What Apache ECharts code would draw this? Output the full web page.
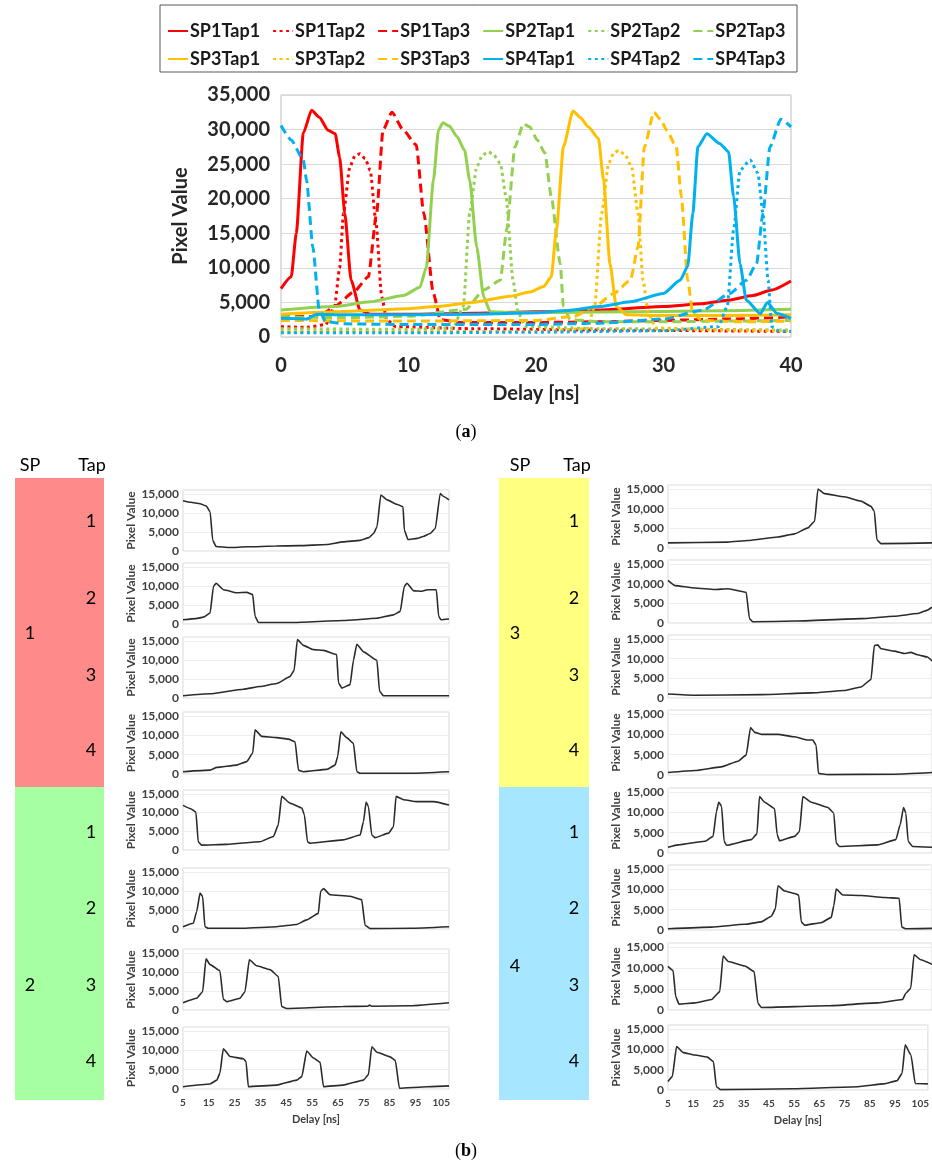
<!DOCTYPE html>
<html><head><meta charset="utf-8">
<script src="https://cdn.jsdelivr.net/npm/echarts@6/dist/echarts.min.js"></script>
<style>html,body{margin:0;padding:0;background:#fff}#c{width:932px;height:1164px}</style>
</head><body><div id="c"></div><script>
// ---------- (a) top chart data: [delay ns, pixel value] ----------
const sp1tap1 = [[0,7000],[0.8,8700],[1.2,15000],[1.75,29500],[2.4,32800],[3.0,31800],[3.7,29900],[4.25,29400],[4.6,26000],[5.0,17900],[5.5,8200],[6.2,3900],[7,3300],[10,3300],[15,3450],[20,3650],[25,3900],[30,4400],[33,4800],[35,5300],[37,6000],[38.5,6800],[40,8100]];
const sp1tap2 = [[0,1500],[2,1400],[3.5,1800],[4.2,4400],[4.6,10000],[4.9,17900],[5.4,24600],[5.8,26200],[6.2,26500],[6.6,25800],[7.0,24100],[7.45,16500],[7.9,5800],[8.3,2500],[9,1500],[15,1200],[25,1000],[40,800]];
const sp1tap3 = [[0,2900],[3,3000],[4.2,4400],[5.7,6500],[6.85,8700],[7.5,17900],[8.0,29900],[8.7,32500],[9.6,29900],[10.6,27800],[11.2,17900],[11.95,6300],[12.5,2500],[14,2100],[20,2100],[25,2200],[30,2400],[35,2600],[40,2900]];
const sp2tap1 = [[0,3900],[4.2,4400],[7,5100],[9.6,6000],[10.9,7200],[11.4,10100],[11.95,22600],[12.35,29900],[12.7,31000],[13.2,30500],[13.8,29000],[14.4,27000],[14.8,22700],[15.35,13000],[15.9,5800],[16.4,3700],[18,3500],[25,3600],[30,3700],[35,3800],[40,4000]];
const sp2tap2 = [[0,1200],[10,1100],[13.5,1300],[14.3,4400],[14.8,17900],[15.35,24600],[15.8,26300],[16.26,26800],[16.7,26300],[17.2,25100],[17.65,20300],[18.2,8200],[18.6,3500],[19.2,1500],[25,1200],[40,1000]];
const sp2tap3 = [[0,2900],[5,2800],[10,3000],[14.5,4000],[15.9,6800],[17.2,8200],[17.7,15500],[18.35,27500],[19.0,30800],[19.5,30400],[20.1,28500],[20.7,26600],[21.2,20300],[21.9,10600],[22.15,4400],[22.7,2500],[25,2200],[30,2200],[35,2300],[40,2400]];
const sp3tap1 = [[0,3300],[5,3700],[10,4100],[12.2,4400],[15,5000],[18,5900],[19.5,6500],[20.6,7300],[21.2,8700],[21.6,15500],[22.15,27500],[22.9,32700],[23.5,31700],[24.1,30400],[24.9,28700],[25.3,22700],[25.8,10600],[26.3,4400],[27.1,3200],[30,3100],[35,3100],[40,3200]];
const sp3tap2 = [[0,800],[10,800],[20,800],[24,1200],[24.6,4400],[25.15,17900],[25.7,25100],[26.1,26600],[26.5,27000],[27.0,26300],[27.5,24600],[28.0,17900],[28.4,8200],[28.8,3500],[29.4,1300],[35,1000],[40,900]];
const sp3tap3 = [[0,2400],[10,2300],[20,2400],[23,3000],[24.6,4400],[26.1,6300],[27.4,8200],[28.0,13000],[28.5,27500],[29.25,32500],[29.8,31400],[30.25,29900],[31.0,27500],[31.4,20300],[31.9,8200],[32.3,3400],[33,2400],[36,2200],[40,2300]];
const sp4tap1 = [[0,2700],[2,2600],[2.8,3300],[5,3200],[10,3200],[15,3300],[20,3500],[22.2,3800],[25,4400],[27.4,5100],[30,6300],[31.3,8200],[31.9,10200],[32.3,17900],[32.7,27500],[33.4,29400],[34.4,28000],[35.1,26800],[35.5,20300],[36.0,10600],[36.5,5300],[37.6,3400],[38.15,5000],[38.9,3400],[40,2700]];
const sp4tap2 = [[0,600],[10,600],[20,700],[30,900],[34.3,1500],[35.0,4400],[35.5,15500],[36.0,24100],[36.8,25600],[37.4,23700],[37.8,17900],[38.2,8200],[38.5,1500],[39,900],[40,800]];
const sp4tap3 = [[0,30600],[0.8,28500],[1.75,25600],[2.0,22700],[2.5,13000],[3.0,3900],[3.5,2200],[5,1900],[10,1800],[15,1800],[20,1800],[25,2000],[30,2600],[33.1,3900],[35.2,6300],[36.5,8200],[37.3,10600],[37.8,17900],[38.35,27500],[39.2,31500],[40,30400]];
const topNames = ['SP1Tap1','SP1Tap2','SP1Tap3','SP2Tap1','SP2Tap2','SP2Tap3','SP3Tap1','SP3Tap2','SP3Tap3','SP4Tap1','SP4Tap2','SP4Tap3'];
const topXTicks = [0,10,20,30,40];
const topYTicks = [0,5000,10000,15000,20000,25000,30000,35000];

// ---------- (b) panel data: [delay ns, pixel value] ----------
const b_sp1_t1 = [[5,13200],[8,12800],[11.6,12400],[14,11800],[15.5,10300],[16.5,2800],[17.8,1200],[23,900],[30,1100],[41,1300],[50,1400],[60.7,1700],[67,2400],[73.6,2800],[77,3500],[78.8,4600],[80.1,6300],[81.6,14700],[84,13400],[88,12200],[90.2,11600],[90.7,5500],[92.1,3000],[95.6,3300],[98,3800],[100.7,4600],[102.7,5900],[104.6,15100],[105.9,14300],[108,13400]];
const b_sp1_t2 = [[5,1100],[10,1400],[12.9,1800],[15.5,2900],[16.8,9900],[17.8,10700],[20.7,9000],[25.8,8200],[29.7,8300],[32,7700],[32.9,2000],[34.2,400],[47.8,400],[67,900],[80,1500],[86.5,2400],[89.1,3300],[90.7,9900],[91.7,10700],[94.3,8700],[97.5,8600],[99.5,9000],[103.1,9000],[104,2000],[104.9,1100],[108,1300]];
const b_sp1_t3 = [[5,600],[15.5,1100],[28.4,2300],[34.8,3000],[41.3,3800],[46.4,5600],[48,7200],[49.3,15300],[51.6,13800],[55.5,12700],[59.4,12500],[64.5,11400],[65.2,4000],[66.5,2600],[69.7,3500],[71,9900],[72.3,14100],[74.9,12100],[80.1,9900],[81.1,1800],[82.6,600],[108,600]];
const b_sp1_t4 = [[5,600],[15.5,1000],[18.1,1700],[25.8,2300],[29.7,3200],[32,5400],[32.9,11400],[35.5,9700],[41.3,9400],[45.8,9000],[48.4,8300],[49.7,1000],[51.6,600],[60.7,1200],[63.9,2300],[64.9,4500],[66.1,10900],[68.4,9400],[71,7900],[72.3,600],[73.6,200],[93,200],[108,600]];
const b_sp2_t1 = [[5,11900],[8,11000],[10,10100],[10.9,2200],[12.2,1300],[21.9,1500],[34.8,2200],[40,3600],[41.9,6700],[43.2,14300],[46.4,12500],[51,11200],[52,9400],[53.2,2200],[54.2,1800],[67,2700],[73.6,4000],[74.9,7600],[75.9,12800],[76.8,11600],[78.1,4000],[79.4,3300],[84.6,4500],[86.5,6200],[87.5,14300],[90.4,13400],[95.6,12900],[102,12900],[108,12000]];
const b_sp2_t2 = [[5,600],[9,1500],[10.3,4600],[11.6,9400],[12.6,8600],[13.5,600],[14.8,200],[28.4,200],[41.3,600],[49,1200],[52.9,2400],[57.4,4100],[58.3,9900],[59.4,10600],[61.9,9000],[69.7,8600],[74.2,7700],[75.5,1000],[77.5,100],[93,200],[108,600]];
const b_sp2_t3 = [[5,1900],[10.3,3100],[12.6,4800],[13.9,13400],[15.5,11900],[19.3,10300],[20.6,2800],[21.9,2200],[27.1,3100],[29,4800],[30.7,13200],[33.5,11600],[38.7,10600],[41.9,8800],[43.2,900],[45.1,400],[67,900],[76.5,1000],[77.3,1300],[78,1000],[93,1100],[108,1900]];
const b_sp2_t4 = [[5,600],[15.5,1300],[18.1,2300],[19.3,4100],[20.6,10400],[23.2,8400],[28.4,7800],[29.4,7100],[30.3,600],[41.3,1000],[49,2300],[51,3200],[52.9,9800],[55.5,8000],[58.1,6900],[59.4,600],[67,1000],[74.9,2300],[76.8,3700],[78.1,10900],[80.1,9500],[85.2,8300],[87.2,7400],[88.8,200],[99.5,600],[108,800]];
const b_sp3_t1 = [[5,1300],[28.4,1500],[36.2,1900],[47.9,2800],[54.4,3600],[59.6,5100],[62.2,6800],[63.5,15000],[66.1,13800],[73.8,13000],[80.3,11900],[84.2,10600],[85.5,9300],[86.5,2100],[88.1,1100],[108,1300]];
const b_sp3_t2 = [[5,10800],[7.7,9500],[15.5,8900],[23.2,8500],[28.4,8700],[35.5,7800],[36.8,1100],[38.1,300],[54.4,500],[80.3,1100],[93.2,1700],[102.3,2400],[106,3200],[108,4000]];
const b_sp3_t3 = [[5,1000],[15.5,700],[41.4,850],[60.9,1300],[73.8,1900],[80.3,2800],[84.2,4700],[85.5,13300],[86.8,13500],[88.1,12500],[93.3,11900],[97.1,11300],[99.7,11600],[102.3,11000],[106.2,10400],[108,9400]];
const b_sp3_t4 = [[5,600],[15.5,1100],[25.8,2000],[32.3,3400],[35.5,4900],[37.2,11700],[38.8,10500],[41.4,10000],[47.9,10000],[54.4,9400],[59.6,8600],[61.5,8600],[62.8,7300],[63.7,400],[67.4,100],[93.3,200],[108,600]];
const b_sp4_t1 = [[5,1400],[9,2000],[19.4,2900],[22.6,4100],[23.9,10200],[24.8,12500],[25.9,11500],[26.9,2900],[27.8,1900],[37.5,3300],[39.7,4700],[40.7,13900],[42.7,12500],[46.6,10900],[47.6,4500],[48.5,3000],[54.4,4100],[56.3,5300],[57.6,13900],[60.9,12500],[67.4,11200],[69.7,9800],[70.6,2500],[71.9,1600],[86.8,2000],[93.9,3300],[95.6,7000],[96.9,11200],[97.8,9800],[98.7,2900],[100.4,1600],[108,1400]];
const b_sp4_t2 = [[5,300],[22,700],[35,1400],[41.4,2000],[45.3,3400],[46.9,5200],[47.9,10900],[50.5,9600],[54.4,9000],[56,8600],[57,2000],[58.3,1200],[64.8,1800],[68.7,3100],[69.7,6000],[70.6,10100],[73.2,8600],[80.3,8500],[89.4,8000],[95.2,7800],[96.2,700],[97.8,300],[108,400]];
const b_sp4_t3 = [[5,10400],[7,9400],[8,3200],[9.3,1400],[15.5,1700],[22,2500],[25.2,4400],[26.5,12900],[28.5,11600],[35,10500],[38.6,9200],[40.1,1600],[41.4,600],[67.4,1000],[86.8,1700],[96.5,2500],[97.8,4000],[99.7,5200],[101,13200],[103.6,12000],[108,10900]];
const b_sp4_t4 = [[5,2100],[6.7,3300],[8.4,10700],[11,9200],[15.5,8600],[20.6,8100],[23,7000],[24.2,800],[25.8,100],[54.4,300],[80.3,800],[90.6,1500],[95.8,2300],[97.8,4100],[99,11100],[101.3,8600],[103,1600],[108,1500]];
const panelXTicks = [5,15,25,35,45,55,65,75,85,95,105];
const panelYTicks = [0,5000,10000,15000];
const spLabels = ['1','2','3','4'];
const tapLabels = ['1','2','3','4'];

// ---------- build ----------
const FONT = 'Lato';
const fmt = v => Number(v).toLocaleString('en-US');
const topData = [sp1tap1,sp1tap2,sp1tap3,sp2tap1,sp2tap2,sp2tap3,sp3tap1,sp3tap2,sp3tap3,sp4tap1,sp4tap2,sp4tap3];
const spColors = ['#FF0000','#92D050','#FFC000','#00B0F0'];
const tapDash = ['solid',[3,3.5],[9,5]];
const leftPanels = [b_sp1_t1,b_sp1_t2,b_sp1_t3,b_sp1_t4,b_sp2_t1,b_sp2_t2,b_sp2_t3,b_sp2_t4];
const rightPanels = [b_sp3_t1,b_sp3_t2,b_sp3_t3,b_sp3_t4,b_sp4_t1,b_sp4_t2,b_sp4_t3,b_sp4_t4];

const topText = {fontFamily:FONT, fontSize:20, fontWeight:'bold', color:'#262626'};
const grids = [{left:281, top:95, width:510, height:242, show:true, borderColor:'#BFBFBF', borderWidth:1}];
const xAxes = [{gridIndex:0, type:'value', min:0, max:40, interval:10,
  axisLine:{show:false}, axisTick:{show:false}, splitLine:{show:false},
  axisLabel:Object.assign({customValues:topXTicks, margin:19}, topText),
  name:'Delay [ns]', nameLocation:'middle', nameGap:47, nameTextStyle:topText}];
const yAxes = [{gridIndex:0, type:'value', min:0, max:35000, interval:5000,
  axisLine:{show:false}, axisTick:{show:false}, splitLine:{lineStyle:{color:'#D9D9D9'}},
  axisLabel:Object.assign({customValues:topYTicks, formatter:fmt, margin:11}, topText),
  name:'Pixel Value', nameLocation:'middle', nameGap:90, nameTextStyle:topText}];
const series = [];
topData.forEach((d,i)=>{
  const c = spColors[Math.floor(i/3)];
  series.push({name:topNames[i], type:'line', xAxisIndex:0, yAxisIndex:0, data:d, symbol:'none', showSymbol:false,
    smooth:0.2, smoothMonotone:'x', lineStyle:{color:c, width:3, type:tapDash[i%3]}, itemStyle:{color:c}, silent:true});
});

const leftTops = [490,563,637,712,790,868,949,1027];
const leftH = [61,61,61,62,60,61,61,62];
const rightTops = [485,560,635,710,788,865,943,1025];
const rightH = [63,63,63,65,65,65,67,65];
const smallText = {fontFamily:FONT, fontWeight:'bold', color:'#404040'};
function addPanel(left, width, top, height, data, isBottom){
  const gi = grids.length;
  grids.push({left, top, width, height, show:true, borderColor:'#D9D9D9', borderWidth:1});
  xAxes.push({gridIndex:gi, type:'value', min:5, max:108,
    axisLine:{show:false}, axisTick:{show:false}, splitLine:{show:false},
    axisLabel:Object.assign({show:isBottom, customValues:panelXTicks, fontSize:10, margin:9}, smallText),
    name:isBottom?'Delay [ns]':'', nameLocation:'middle', nameGap:25, nameTextStyle:Object.assign({fontSize:11}, smallText)});
  yAxes.push({gridIndex:gi, type:'value', min:0, max:16000, interval:5000,
    axisLine:{show:false}, axisTick:{show:false}, splitLine:{lineStyle:{color:'#EEEEEE'}},
    axisLabel:Object.assign({customValues:panelYTicks, formatter:fmt, fontSize:12, margin:4}, smallText),
    name:'Pixel Value', nameLocation:'middle', nameGap:46, nameTextStyle:Object.assign({fontSize:12}, smallText)});
  series.push({type:'line', xAxisIndex:gi, yAxisIndex:gi, data, symbol:'none', showSymbol:false, smooth:0.15, smoothMonotone:'x',
    lineStyle:{color:'#2b2b2b', width:1.6}, silent:true});
}
leftPanels.forEach((d,i)=>addPanel(183,266,leftTops[i],leftH[i],d,i===7));
rightPanels.forEach((d,i)=>addPanel(668,264,rightTops[i],rightH[i],d,i===7));

// decorative blocks & labels
const g = [];
const txt = (t,x,y,size)=>g.push({type:'text', x, y, style:{text:t, fill:'#000', font:`${size}px ${FONT}`, align:'center', verticalAlign:'middle'}});
g.push({type:'rect', shape:{x:160,y:5,width:637,height:67}, style:{fill:'none', stroke:'#595959', lineWidth:1}});
g.push({type:'rect', shape:{x:15,y:478,width:89,height:309}, style:{fill:'#FF8A8A'}});
g.push({type:'rect', shape:{x:15,y:787,width:89,height:313}, style:{fill:'#A6FFA0'}});
g.push({type:'rect', shape:{x:499,y:478,width:90,height:309}, style:{fill:'#FFFF80'}});
g.push({type:'rect', shape:{x:499,y:787,width:90,height:313}, style:{fill:'#A6E6FF'}});
txt('SP',30,465,18); txt('Tap',92,465,18); txt('SP',520,465,18); txt('Tap',577,465,18);
txt(spLabels[0],30,633,18); txt(spLabels[1],30,985,18); txt(spLabels[2],515,633,18); txt(spLabels[3],515,966,18);
const tapYs = [521,598,675,750,832,908,985,1061];
tapYs.forEach((y,i)=>{ txt(tapLabels[i%4],91,y,18); txt(tapLabels[i%4],574,y,18); });
g.push({type:'text', x:466, y:432, style:{text:'({b|a})', fill:'#000', font:'18px "Liberation Serif"', align:'center', verticalAlign:'middle', rich:{b:{fontWeight:'bold', fontFamily:'Liberation Serif', fontSize:18}}}});
g.push({type:'text', x:466, y:1151, style:{text:'({b|b})', fill:'#000', font:'18px "Liberation Serif"', align:'center', verticalAlign:'middle', rich:{b:{fontWeight:'bold', fontFamily:'Liberation Serif', fontSize:18}}}});

const legendBase = {itemWidth:20, itemHeight:10, itemGap:12, selectedMode:false,
  itemStyle:{opacity:0, borderWidth:0},
  textStyle:{fontFamily:FONT, fontSize:18, fontWeight:'bold', color:'#1a1a1a', width:66, padding:[0,0,0,-3]}};
const chart = echarts.init(document.getElementById('c'), null, {renderer:'canvas'});
chart.setOption({
  animation:false,
  backgroundColor:'#fff',
  legend:[Object.assign({data:topNames.slice(0,6), left:162, top:17}, legendBase),
          Object.assign({data:topNames.slice(6), left:162, top:45}, legendBase)],
  grid:grids, xAxis:xAxes, yAxis:yAxes, series, graphic:g
});
</script></body></html>
